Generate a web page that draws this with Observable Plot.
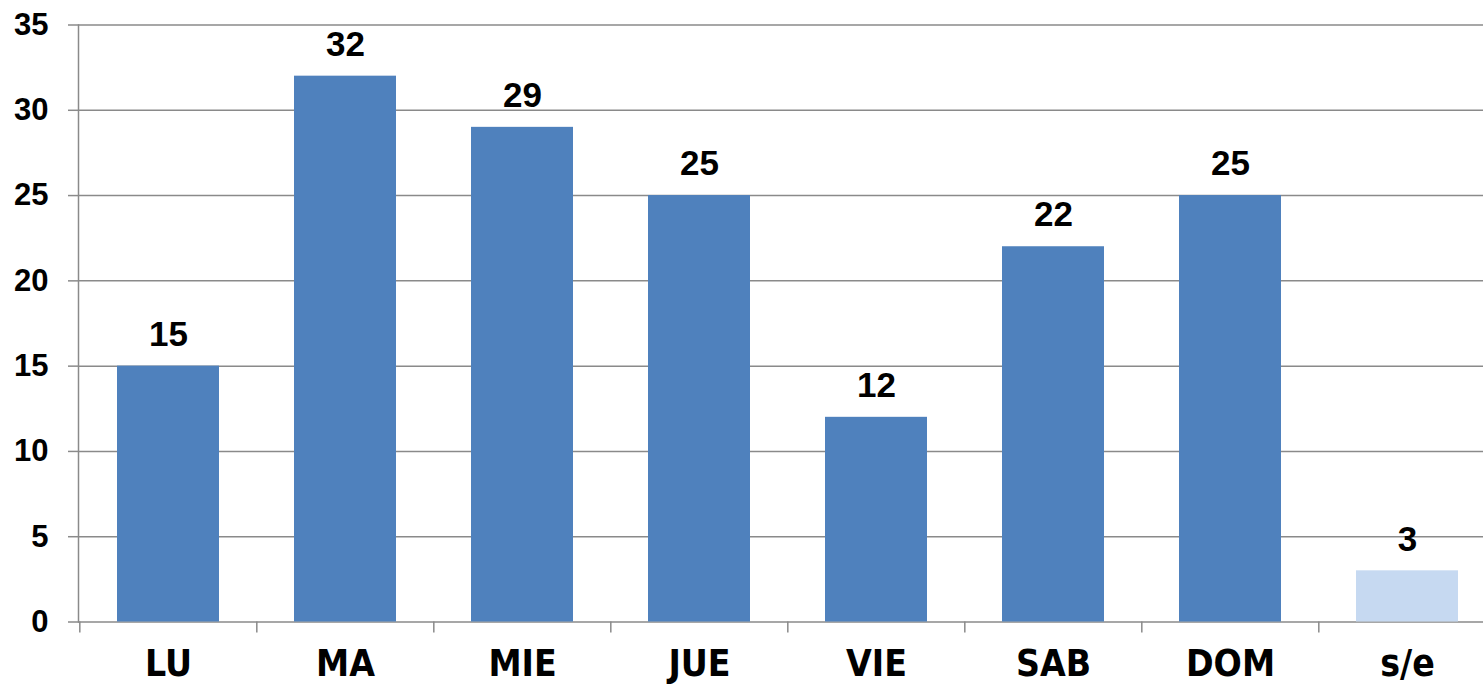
<!DOCTYPE html>
<html>
<head>
<meta charset="utf-8">
<script src="https://cdn.jsdelivr.net/npm/d3@7"></script>
<script src="https://cdn.jsdelivr.net/npm/@observablehq/plot@0.6"></script>
<style>
  html, body { margin: 0; padding: 0; background: #fff; overflow: hidden; }
  svg { display: block; }
</style>
</head>
<body>
<div id="chart"></div>
<script>
const days = ["LU", "MA", "MIE", "JUE", "VIE", "SAB", "DOM", "s/e"];
const counts = [15, 32, 29, 25, 12, 22, 25, 3];
const barColors = ["#4F81BD", "#4F81BD", "#4F81BD", "#4F81BD", "#4F81BD", "#4F81BD", "#4F81BD", "#C6D9F1"];
const yTicks = [0, 5, 10, 15, 20, 25, 30, 35];

const data = days.map((d, i) => ({day: d, count: counts[i], color: barColors[i]}));

const W = 1483, H = 684;
const xRange = [78, 1497];
const step = (xRange[1] - xRange[0]) / days.length;
const grid = "#8a8a8a";
const fontMain = "'Liberation Sans', Arial, sans-serif";
const fontNarrow = "'Liberation Sans Narrow', 'DejaVu Sans Condensed', 'Liberation Sans', sans-serif";

const chart = Plot.plot({
  width: W,
  height: H,
  marginLeft: 78,
  marginRight: 0,
  marginTop: 24.5,
  marginBottom: 62.5,
  style: {background: "#fff", overflow: "hidden"},
  x: {domain: days, range: xRange, paddingInner: 0.425, paddingOuter: 0.2125, align: 0.5, label: null},
  y: {domain: [0, 35], label: null},
  marks: [
    Plot.gridY(yTicks, {stroke: grid, strokeOpacity: 1, strokeWidth: 1.5}),
    Plot.barY(data, {x: "day", y: "count", fill: "color"}),
    Plot.frame({anchor: "left", stroke: grid, strokeWidth: 1.5}),
    Plot.axisY(yTicks, {
      tickSize: 10, tickPadding: 20, stroke: grid, strokeWidth: 1.5,
      fontSize: 31, fontWeight: "bold", fontFamily: fontMain, fill: "#000", label: null
    }),
    Plot.axisX({
      tickSize: 11, tickFormat: () => "", dx: -step / 2, stroke: grid, strokeWidth: 1.5, label: null
    }),
    Plot.axisX({
      tickSize: 0, tickPadding: 27.5, fontSize: 37, fontWeight: "bold", fontFamily: fontNarrow,
      fill: "#000", label: null
    }),
    Plot.text(data, {
      x: "day", y: "count", text: d => String(d.count), dy: -31.5,
      fontSize: 35, fontWeight: "bold", fontFamily: fontMain, fill: "#000"
    })
  ]
});
document.getElementById("chart").appendChild(chart);
</script>
</body>
</html>
